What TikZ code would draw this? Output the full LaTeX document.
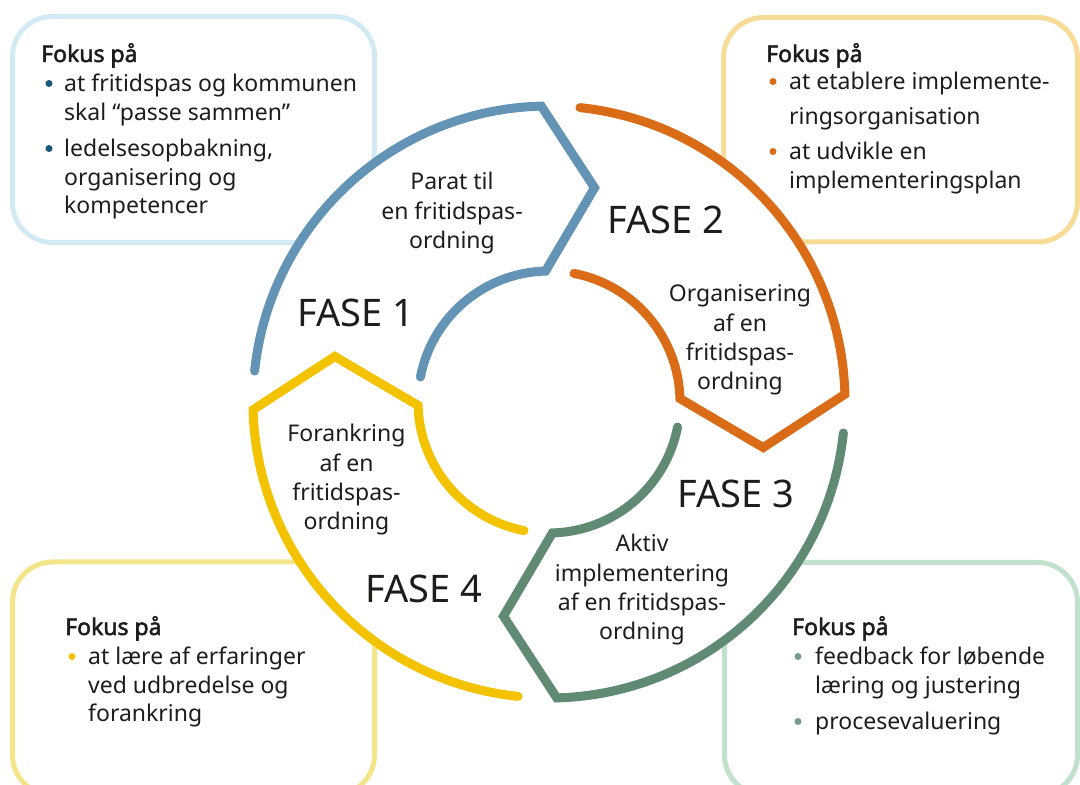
\documentclass[tikz,border=0pt]{standalone}
\usepackage{fontspec}
\setmainfont{Noto Sans}
\newfontfamily\headfont[FakeBold=2.2]{Noto Sans}
\usetikzlibrary{calc}
\definecolor{fblue}{RGB}{99,147,181}
\definecolor{forange}{RGB}{218,108,24}
\definecolor{fgreen}{RGB}{96,138,116}
\definecolor{fyellow}{RGB}{244,195,0}
\definecolor{bxblue}{RGB}{211,234,244}
\definecolor{bxorange}{RGB}{247,220,151}
\definecolor{bxyellow}{RGB}{243,229,138}
\definecolor{bxgreen}{RGB}{193,225,204}
\definecolor{dotblue}{RGB}{23,88,122}
\definecolor{ink}{RGB}{29,29,27}
\newcommand\bodysz{\fontsize{23}{28.5}\selectfont}
\newcommand\circsz{\fontsize{23}{29.3}\selectfont}
\newcommand\fasesz{\fontsize{38}{44}\selectfont}
\newcommand\phaseshape[3]{%
  \draw[phase,#1] ($(C)+({#3-7.5}:296)$) arc[start angle={#3-7.5}, end angle={#2}, radius=296pt]
    -- ($(C)+({#2-13.5}:219)$) -- ($(C)+({#2}:131)$)
    arc[start angle={#2}, end angle={#3-12.5}, radius=131pt];}
\begin{document}
\begin{tikzpicture}[x=1pt,y=1pt,
  fbox/.style={line width=5pt,rounded corners=40pt},
  phase/.style={line width=9pt,line cap=round,line join=miter},
  head/.style={inner sep=0pt,anchor=base west,font=\headfont\bodysz,text=ink},
  item/.style={inner sep=0pt,anchor=base west,font=\bodysz,text=ink},
  lbl/.style={inner sep=0pt,anchor=base,font=\circsz,text=ink},
  fase/.style={inner sep=0pt,anchor=base west,font=\fasesz,text=ink}]
\useasboundingbox (0,0) rectangle (1080,785);
\begin{scope}
\clip (0,0) rectangle (1080,785);
% boxes
\draw[fbox,bxblue] (12.5,542.5) rectangle (374.5,768.5);
\draw[fbox,bxorange] (723.5,543) rectangle (1077.5,767.5);
\draw[fbox,bxyellow] (12.5,-10) rectangle (374.5,223);
\draw[fbox,bxgreen] (724.5,-10) rectangle (1077.5,222.5);
\end{scope}
% white disk
\coordinate (C) at (549,383);
\fill[white] (C) circle (300.5pt);
% phases
\phaseshape{fblue}{91.5}{181.5}
\phaseshape{forange}{1.5}{91.5}
\phaseshape{fgreen}{-88.5}{1.5}
\phaseshape{fyellow}{-178.5}{-88.5}
% top-left box text
\node[head] (tlh) at (41,723) {Fokus på};
\fill[dotblue] (49,701.5) circle (3.5pt);
\node[item] (tl1) at (64,693) {\parbox[t]{320pt}{\raggedright at fritidspas og kommunen\\skal “passe sammen”}};
\fill[dotblue] (49,636.5) circle (3.5pt);
\node[item] (tl2) at (64,628) {\parbox[t]{320pt}{\raggedright ledelsesopbakning,\\organisering og\\kompetencer}};
% top-right box text
\node[head] (trh) at (766,723) {Fokus på};
\fill[forange] (773,703.5) circle (3.5pt);
\node[item] (tr1) at (789,695) {\parbox[t]{300pt}{\raggedright at etablere implemente-\\[6.5pt]ringsorganisation}};
\fill[forange] (773,633.5) circle (3.5pt);
\node[item] (tr2) at (789,625) {\parbox[t]{300pt}{\raggedright at udvikle en\\implementeringsplan}};
% bottom-left box text
\node[head] (blh) at (65,150) {Fokus på};
\fill[fyellow] (72,128.5) circle (3.5pt);
\node[item] (bl1) at (88,120) {\parbox[t]{300pt}{\raggedright at lære af erfaringer\\ved udbredelse og\\forankring}};
% bottom-right box text
\node[head] (brh) at (792,150) {Fokus på};
\fill[fgreen!85] (798,128.5) circle (3.5pt);
\node[item] (br1) at (815,120) {\parbox[t]{300pt}{\raggedright feedback for løbende\\læring og justering}};
\fill[fgreen!85] (798,63.5) circle (3.5pt);
\node[item] (br2) at (815,55) {procesevaluering};
% circle labels
\node[lbl] (p1) at (452,595) {\parbox[t]{220pt}{\centering Parat til\\en fritidspas-\\ordning}};
\node[lbl] (p2) at (740,483) {\parbox[t]{220pt}{\centering Organisering\\af en\\fritidspas-\\ordning}};
\node[lbl] (p3) at (642,233) {\parbox[t]{240pt}{\centering Aktiv\\implementering\\af en fritidspas-\\ordning}};
\node[lbl] (p4) at (346.5,343) {\parbox[t]{220pt}{\centering Forankring\\af en\\fritidspas-\\ordning}};
% phase titles
\node[fase] (f1) at (297,458) {FASE 1};
\node[fase] (f2) at (607,551) {FASE 2};
\node[fase] (f3) at (677,277) {FASE 3};
\node[fase] (f4) at (365,182) {FASE 4};
\end{tikzpicture}
\end{document}
